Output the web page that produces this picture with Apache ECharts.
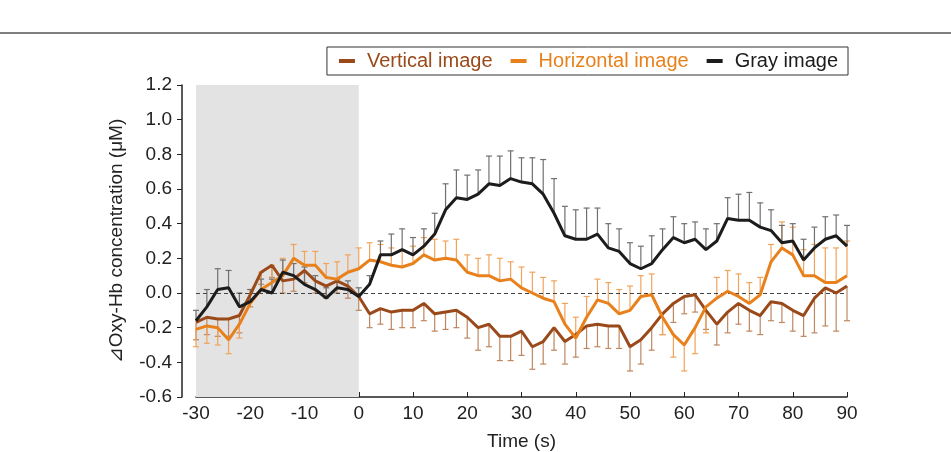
<!DOCTYPE html>
<html>
<head>
<meta charset="utf-8">
<script src="https://cdn.jsdelivr.net/npm/echarts@6/dist/echarts.min.js"></script>
<style>
  html, body { margin: 0; padding: 0; background: #fff; }
  #main { width: 951px; height: 452px; }
</style>
</head>
<body>
<div id="main"></div>
<script>
const chart = echarts.init(document.getElementById('main'))

// time points (s), every 2 s
const times = []
for (let t = -30; t <= 90; t += 2) times.push(t)

const seriesNames = ['Vertical image', 'Horizontal image', 'Gray image']

const verticalVals = [
  -0.17, -0.14, -0.15, -0.15, -0.13, -0.01, 0.12, 0.16, 0.07, 0.08,
  0.13, 0.07, 0.04, 0.07, 0.04, -0.02, -0.12, -0.09, -0.11, -0.10,
  -0.10, -0.06, -0.12, -0.11, -0.10, -0.14, -0.20, -0.18, -0.25, -0.25,
  -0.22, -0.31, -0.28, -0.20, -0.28, -0.24, -0.19, -0.18, -0.19, -0.19,
  -0.31, -0.27, -0.20, -0.12, -0.06, -0.02, -0.01, -0.10, -0.18, -0.11,
  -0.06, -0.10, -0.13, -0.05, -0.06, -0.10, -0.13, -0.03, 0.03, 0.00, 0.04
]
// error bars drawn downward
const verticalErr = [
  0.10, 0.10, 0.10, 0.10, 0.10, 0.07, 0.07, 0.07, 0.07, 0.07,
  0.07, 0.07, 0.07, 0.07, 0.07, 0.08, 0.08, 0.09, 0.10, 0.10,
  0.10, 0.10, 0.10, 0.10, 0.10, 0.12, 0.13, 0.13, 0.14, 0.14,
  0.14, 0.13, 0.13, 0.13, 0.13, 0.13, 0.13, 0.13, 0.13, 0.13,
  0.14, 0.14, 0.13, 0.12, 0.11, 0.10, 0.10, 0.11, 0.12, 0.12,
  0.12, 0.12, 0.11, 0.11, 0.11, 0.12, 0.12, 0.20, 0.22, 0.22, 0.20
]

const horizontalVals = [
  -0.21, -0.19, -0.20, -0.27, -0.18, -0.06, 0.02, 0.06, 0.10, 0.20,
  0.16, 0.16, 0.09, 0.08, 0.12, 0.14, 0.19, 0.18, 0.16, 0.15,
  0.17, 0.22, 0.19, 0.20, 0.19, 0.12, 0.10, 0.10, 0.07, 0.08,
  0.03, 0.00, -0.03, -0.05, -0.18, -0.26, -0.14, -0.04, -0.06, -0.12,
  -0.10, -0.02, -0.01, -0.14, -0.24, -0.30, -0.20, -0.08, -0.03, 0.01,
  -0.02, -0.06, -0.01, 0.18, 0.26, 0.22, 0.10, 0.10, 0.06, 0.06, 0.10
]
// signed error bars: + drawn up, - drawn down
const horizontalErr = [
  -0.10, -0.10, -0.10, -0.08, -0.08, 0.08, 0.10, 0.10, 0.10, 0.08,
  0.08, 0.08, 0.08, 0.10, 0.10, 0.12, 0.10, 0.10, 0.10, 0.10,
  0.10, 0.10, 0.12, 0.10, 0.12, 0.10, 0.10, 0.12, 0.13, 0.10,
  0.12, 0.12, 0.12, 0.12, 0.12, 0.12, 0.12, 0.12, 0.12, 0.14,
  0.14, 0.12, 0.12, -0.10, -0.13, -0.15, -0.15, -0.15, 0.12, 0.12,
  0.13, 0.12, 0.10, 0.10, 0.15, 0.16, 0.15, 0.18, 0.20, 0.20, 0.20
]

const grayVals = [
  -0.16, -0.08, 0.02, 0.03, -0.08, -0.05, 0.02, 0.00, 0.12, 0.10,
  0.05, 0.02, -0.03, 0.03, 0.02, -0.02, 0.05, 0.22, 0.22, 0.25,
  0.22, 0.27, 0.34, 0.48, 0.55, 0.54, 0.57, 0.63, 0.62, 0.66,
  0.64, 0.63, 0.57, 0.46, 0.33, 0.31, 0.31, 0.34, 0.26, 0.24,
  0.17, 0.14, 0.17, 0.25, 0.32, 0.29, 0.31, 0.25, 0.30, 0.43,
  0.42, 0.42, 0.38, 0.36, 0.29, 0.30, 0.19, 0.26, 0.31, 0.33, 0.27
]
// error bars drawn upward
const grayErr = [
  0.06, 0.10, 0.12, 0.10, 0.08, 0.07, 0.06, 0.08, 0.07, 0.07,
  0.10, 0.08, 0.06, 0.05, 0.05, 0.05, 0.05, 0.08, 0.12, 0.12,
  0.10, 0.10, 0.12, 0.15, 0.16, 0.14, 0.14, 0.16, 0.17, 0.16,
  0.14, 0.15, 0.20, 0.20, 0.17, 0.17, 0.18, 0.15, 0.14, 0.13,
  0.12, 0.13, 0.16, 0.12, 0.12, 0.11, 0.10, 0.12, 0.10, 0.12,
  0.15, 0.16, 0.14, 0.12, 0.10, 0.10, 0.12, 0.12, 0.13, 0.12, 0.12
]

const lineColors = ['#9a4a1a', '#e8811c', '#1c1c1c']
const barColors = ['#bf8660', '#f0a35a', '#707070']
const fontFam = "'Liberation Sans', Arial, sans-serif"

function pairs(vals) {
  return times.map((t, i) => [t, vals[i]])
}
// [t, value, end of bar]
function errData(vals, errs, sign) {
  return times.map((t, i) => [t, vals[i], vals[i] + sign * errs[i]])
}

function errSeries(data, color) {
  return {
    type: 'custom',
    silent: true,
    data: data,
    encode: { x: 0, y: [1, 2] },
    renderItem: function (params, api) {
      const a = api.coord([api.value(0), api.value(1)])
      const b = api.coord([api.value(0), api.value(2)])
      const st = { stroke: color, lineWidth: 1.2 }
      return {
        type: 'group',
        children: [
          { type: 'line', shape: { x1: a[0], y1: a[1], x2: b[0], y2: b[1] }, style: st },
          { type: 'line', shape: { x1: b[0] - 3, y1: b[1], x2: b[0] + 3, y2: b[1] }, style: st }
        ]
      }
    }
  }
}

function lineSeries(idx, vals) {
  return {
    name: seriesNames[idx],
    type: 'line',
    data: pairs(vals),
    showSymbol: false,
    z: 5,
    lineStyle: { color: lineColors[idx], width: 3 },
    itemStyle: { color: lineColors[idx] }
  }
}

const vLine = lineSeries(0, verticalVals)
vLine.markArea = {
  silent: true,
  itemStyle: { color: '#e3e3e3' },
  data: [[{ xAxis: -30 }, { xAxis: 0 }]]
}
vLine.markLine = {
  silent: true,
  symbol: 'none',
  label: { show: false },
  lineStyle: { color: '#444', type: [4, 3], width: 1 },
  data: [{ yAxis: 0 }]
}

chart.setOption({
  animation: false,
  graphic: [{
    type: 'line',
    shape: { x1: 0, y1: 33, x2: 951, y2: 33 },
    style: { stroke: '#555', lineWidth: 1.5 }
  }],
  legend: {
    right: 103,
    top: 47,
    padding: [4, 10, 4, 12],
    borderColor: '#333',
    borderWidth: 1,
    itemGap: 18,
    itemWidth: 16,
    itemHeight: 4,
    icon: 'rect',
    textStyle: { fontSize: 20, fontFamily: fontFam, padding: [0, 0, 0, 7] },
    data: seriesNames.map((n, i) => ({ name: n, textStyle: { color: lineColors[i] } }))
  },
  grid: { left: 196, right: 104, top: 85, bottom: 55, containLabel: false, outerBoundsMode: 'none' },
  xAxis: {
    type: 'value',
    min: -30,
    max: 90,
    interval: 10,
    name: 'Time (s)',
    nameLocation: 'middle',
    nameGap: 35,
    nameTextStyle: { fontSize: 19, color: '#222', fontFamily: fontFam },
    splitLine: { show: false },
    axisLine: { onZero: false, lineStyle: { color: '#222', width: 1.5 } },
    axisTick: { inside: true, length: 5, lineStyle: { color: '#222' } },
    axisLabel: { fontSize: 19, color: '#222', margin: 7, fontFamily: fontFam }
  },
  yAxis: {
    type: 'value',
    min: -0.6,
    max: 1.2,
    interval: 0.2,
    offset: 14,
    name: '⊿Oxy-Hb concentration (μM)',
    nameLocation: 'middle',
    nameGap: 56,
    nameTextStyle: { fontSize: 19, color: '#222', fontFamily: fontFam },
    splitLine: { show: false },
    axisLine: { show: true, onZero: false, lineStyle: { color: '#222', width: 1.5 } },
    axisTick: { show: true, length: 5, lineStyle: { color: '#222' } },
    axisLabel: {
      fontSize: 19, color: '#222', margin: 10, fontFamily: fontFam,
      formatter: v => v.toFixed(1)
    }
  },
  series: [
    errSeries(errData(verticalVals, verticalErr, -1), barColors[0]),
    errSeries(errData(horizontalVals, horizontalErr, 1), barColors[1]),
    errSeries(errData(grayVals, grayErr, 1), barColors[2]),
    vLine,
    lineSeries(1, horizontalVals),
    lineSeries(2, grayVals)
  ]
})
</script>
</body>
</html>
